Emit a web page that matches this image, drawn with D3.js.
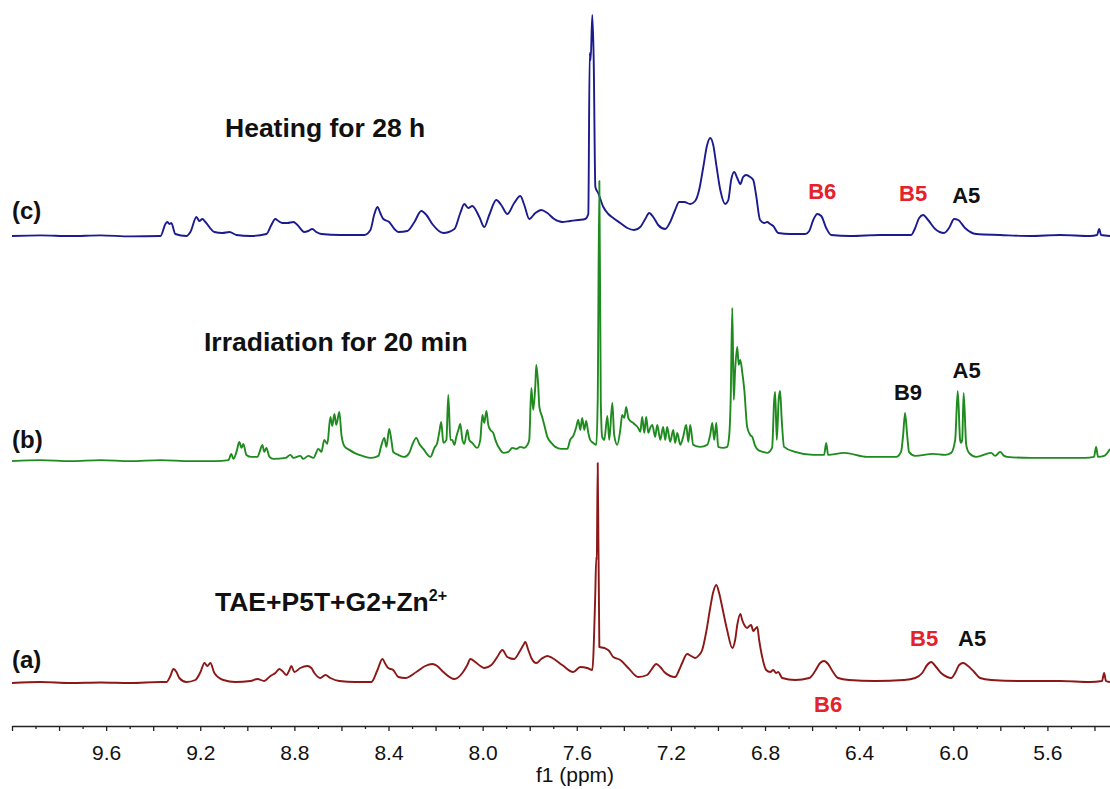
<!DOCTYPE html>
<html>
<head>
<meta charset="utf-8">
<script src="https://cdn.jsdelivr.net/npm/d3@7"></script>
<style>
  html, body { margin: 0; padding: 0; background: #ffffff; }
  svg { display: block; }
  text { font-family: "Liberation Sans", Arial, sans-serif; }
</style>
</head>
<body>
<svg id="chart" width="1110" height="789"></svg>
<script>
// 1H NMR spectra, aromatic region. Each series: [chemical shift (ppm), intensity (a.u.)].

// (c) after heating for 28 h
const spectrumC = [
  [10.00,0],[9.879,0.3],[9.752,0],[9.624,0.3],[9.497,-0.2],[9.369,0],
  [9.348,6],[9.340,7],[9.331,6],[9.323,6.5],[9.306,1],[9.259,0],
  [9.242,2],[9.216,9.5],[9.204,7.5],[9.191,8.5],[9.178,7],[9.140,2],[9.106,1.5],[9.076,2],[9.046,0.5],[8.987,0],[8.919,1],
  [8.898,5.5],[8.881,8.5],[8.868,7.5],[8.851,6.5],[8.830,6.5],[8.804,7],[8.787,5.5],[8.758,2],[8.741,2.5],[8.724,3.5],[8.707,2],[8.685,1],[8.605,0.5],[8.503,0.5],
  [8.477,3],[8.460,11],[8.447,14.5],[8.435,11.5],[8.422,8.5],[8.397,7],[8.375,3.5],[8.358,2],[8.320,2.5],
  [8.290,7],[8.261,12.5],[8.239,10.5],[8.214,6],[8.167,1.5],[8.120,3.5],
  [8.095,11.5],[8.078,16],[8.061,14],[8.044,15],[8.014,9.5],[7.993,4.5],[7.972,10.5],[7.942,18],[7.921,15.5],[7.895,11],
  [7.866,16.5],[7.840,20],[7.823,15.5],[7.802,8.5],[7.776,11.5],[7.751,13],[7.725,11.5],[7.696,8.5],[7.662,7],[7.628,7.5],
  [7.594,8],[7.564,8.5],[7.551,11],[7.545,91.5],[7.541,88],[7.534,110.5],[7.528,88],[7.521,24.5],[7.509,21.5],[7.487,14.5],
  [7.466,11],[7.445,9],[7.415,6.5],[7.385,4],[7.356,3],[7.330,4.5],[7.309,8.5],[7.292,11.5],[7.275,9.5],[7.254,5.5],[7.224,3.5],
  [7.203,7],[7.182,13],[7.165,17],[7.143,17],[7.118,16],[7.097,17.5],[7.080,23],[7.063,34],[7.046,45.5],[7.033,49],[7.020,45.5],
  [7.007,35.5],[6.990,23],[6.969,16],[6.956,18],[6.944,28],[6.931,32],[6.918,29],[6.905,26],[6.893,29.5],[6.880,30.5],[6.863,29.5],
  [6.850,28],[6.838,20.5],[6.821,8],[6.803,6.5],[6.791,7],[6.778,6],[6.765,5],[6.744,1.5],[6.693,1],[6.629,1],
  [6.612,2.5],[6.595,8],[6.578,11],[6.561,10],[6.540,4],[6.519,0.5],[6.438,0],[6.311,0.5],[6.179,0.5],
  [6.162,4],[6.145,9],[6.128,10.5],[6.107,8],[6.077,3.5],[6.039,1.5],[6.018,4],[5.996,8.5],[5.979,8],[5.950,4],[5.903,1],
  [5.801,0.5],[5.673,0],[5.546,0.5],[5.419,0],[5.389,0.5],[5.380,3.5],[5.372,0.5],[5.334,0]
];

// (b) after irradiation for 20 min
const spectrumB = [
  [10.00,-0.8],[9.879,-0.3],[9.752,-0.8],[9.624,-0.3],[9.497,-0.8],[9.369,-0.3],[9.242,-0.8],[9.136,-0.8],[9.080,-0.3],
  [9.068,2.8],[9.059,0.3],[9.046,3.8],[9.034,8.8],[9.025,5.8],[9.017,7.8],[9.004,2.3],[8.983,1.3],[8.957,1.3],[8.945,4.8],
  [8.936,7.3],[8.928,3.8],[8.919,5.8],[8.906,1.3],[8.889,0.3],[8.838,0.8],[8.817,2.3],[8.804,0.8],[8.775,1.8],[8.762,0.3],
  [8.741,1.8],[8.719,0.8],[8.698,5.3],[8.685,3.8],[8.673,9.8],[8.660,7.8],[8.647,21.3],[8.639,16.8],[8.630,22.8],[8.622,17.3],
  [8.609,23.8],[8.600,12.3],[8.588,6.8],[8.566,4.8],[8.545,3.3],[8.511,1.8],[8.473,0.8],[8.443,1.8],[8.431,6.8],[8.418,10.8],
  [8.409,6.3],[8.397,15.3],[8.388,9.8],[8.380,3.8],[8.358,2.3],[8.333,1.3],[8.312,3.3],[8.299,7.3],[8.282,10.8],[8.269,7.8],
  [8.252,5.3],[8.222,1.3],[8.205,5.8],[8.193,8.3],[8.184,13.8],[8.176,18.8],[8.167,8.3],[8.154,9.8],[8.146,32.3],[8.137,9.8],
  [8.129,9.8],[8.120,7.3],[8.112,11.3],[8.103,14.8],[8.095,17.8],[8.086,9.8],[8.078,7.8],[8.065,14.8],[8.057,9.8],[8.044,8.3],
  [8.023,5.8],[8.010,9.8],[8.001,22.3],[7.993,18.3],[7.984,24.3],[7.976,17.3],[7.967,14.8],[7.955,13.3],[7.946,9.8],[7.925,4.8],
  [7.912,3.3],[7.891,3.8],[7.874,5.8],[7.857,5.3],[7.840,6.3],[7.823,5.8],[7.810,7.3],[7.802,9.8],[7.793,35.8],[7.785,24.8],
  [7.776,37.3],[7.772,47.3],[7.764,37.3],[7.759,26.3],[7.747,21.3],[7.738,17.3],[7.725,11.3],[7.708,8.3],[7.691,6.3],[7.666,5.3],
  [7.640,5.3],[7.628,9.8],[7.615,11.8],[7.602,16.3],[7.594,19.8],[7.585,14.8],[7.577,20.8],[7.568,14.8],[7.560,19.3],[7.551,13.3],
  [7.543,9.8],[7.530,8.3],[7.517,7.3],[7.511,29.8],[7.504,139.3],[7.498,29.8],[7.492,11.3],[7.483,9.8],[7.470,21.8],[7.462,9.8],
  [7.449,28.3],[7.441,12.3],[7.428,7.3],[7.415,14.8],[7.407,22.3],[7.398,20.8],[7.390,26.3],[7.381,20.8],[7.373,19.3],[7.360,18.3],
  [7.351,17.3],[7.339,15.8],[7.330,13.8],[7.322,21.3],[7.313,13.3],[7.305,21.3],[7.296,13.3],[7.288,15.8],[7.279,17.3],[7.267,11.3],
  [7.258,17.3],[7.245,9.8],[7.233,16.3],[7.224,9.8],[7.216,16.3],[7.203,8.8],[7.190,14.8],[7.182,8.3],[7.173,13.3],[7.160,7.3],
  [7.148,11.3],[7.135,17.3],[7.126,8.8],[7.118,17.3],[7.105,7.3],[7.075,6.3],[7.046,7.3],[7.033,12.3],[7.024,18.3],[7.016,9.8],
  [7.007,18.3],[6.999,6.3],[6.978,5.8],[6.961,6.3],[6.952,12.3],[6.946,29.8],[6.939,75.8],[6.933,29.8],[6.927,44.8],[6.918,56.3],
  [6.912,47.3],[6.905,49.8],[6.897,43.8],[6.888,34.8],[6.876,16.3],[6.863,12.3],[6.854,11.3],[6.842,6.8],[6.829,4.8],[6.808,3.8],
  [6.791,3.3],[6.770,5.8],[6.761,29.8],[6.757,33.8],[6.750,9.8],[6.742,29.8],[6.736,34.3],[6.729,19.8],[6.719,6.3],[6.672,3.8],
  [6.595,2.3],[6.549,2.3],[6.540,8.3],[6.532,2.3],[6.464,3.3],[6.366,1.3],[6.243,1.3],[6.222,3.8],[6.213,12.3],[6.205,23.3],
  [6.196,12.3],[6.188,3.8],[6.162,1.8],[6.086,2.8],[6.035,2.3],[6.009,3.3],[5.992,9.8],[5.981,34.3],[5.971,9.8],[5.967,8.3],
  [5.962,9.8],[5.956,33.3],[5.945,7.3],[5.933,3.3],[5.903,1.3],[5.839,3.3],[5.822,1.8],[5.801,3.8],[5.784,1.8],[5.771,1.3],
  [5.669,0.8],[5.546,0.8],[5.440,0.8],[5.402,1.3],[5.393,6.3],[5.385,1.3],[5.359,1.8],[5.334,5.3]
];

// (a) TAE+P5T+G2+Zn2+
const spectrumA = [
  [10.00,0],[9.879,0.5],[9.752,0],[9.624,0.25],[9.497,0],[9.369,0.5],[9.344,0.5],[9.327,3.5],[9.314,7],[9.301,5.5],[9.289,2.5],
  [9.259,0.5],[9.221,1.5],[9.199,5.5],[9.182,10],[9.170,8.5],[9.157,10],[9.140,5],[9.102,1.5],[9.051,0.5],[8.987,1],[8.957,2],
  [8.928,1],[8.902,3.5],[8.881,5],[8.864,7],[8.851,6],[8.834,4],[8.821,6.5],[8.813,8.5],[8.800,5.5],[8.775,7.5],[8.745,8.5],
  [8.728,7.5],[8.715,5],[8.690,2.5],[8.668,4],[8.647,2.5],[8.609,1],[8.541,0.5],[8.473,0.5],[8.447,6.5],[8.426,12],[8.413,9.5],
  [8.401,7.5],[8.380,6.5],[8.358,3],[8.329,2.5],[8.282,5.5],[8.244,8.5],[8.214,9.5],[8.193,8.5],[8.167,5.5],[8.120,2],[8.086,5],
  [8.065,9],[8.052,12],[8.031,10.5],[8.010,8.5],[7.993,7.5],[7.963,9],[7.938,13],[7.916,16.5],[7.895,13],[7.866,12],[7.844,15.5],
  [7.827,19],[7.819,20.5],[7.806,16.5],[7.793,12.5],[7.772,10],[7.751,12],[7.725,13.5],[7.704,12.5],[7.662,9],[7.615,5.5],
  [7.585,8],[7.556,7.5],[7.534,6.5],[7.522,41.5],[7.517,63],[7.515,61.5],[7.511,110],[7.504,18],[7.483,17.5],[7.462,16],
  [7.445,13],[7.415,11.5],[7.381,7.5],[7.339,3],[7.301,4],[7.284,6.5],[7.262,9.5],[7.245,8],[7.228,5.5],[7.203,3.5],[7.182,3],
  [7.165,6.5],[7.152,10],[7.131,14.5],[7.114,13.5],[7.097,12.5],[7.080,14],[7.067,16.5],[7.050,25.5],[7.033,37.5],[7.020,45.5],
  [7.007,49],[6.995,45],[6.982,38],[6.961,26.5],[6.939,17.5],[6.927,21.5],[6.918,29],[6.905,34.5],[6.897,31.5],[6.888,29],
  [6.876,27.5],[6.867,28.5],[6.859,29],[6.850,26],[6.842,27],[6.833,28],[6.825,21.5],[6.812,13],[6.795,6.5],[6.778,5.5],
  [6.765,6.5],[6.753,5],[6.744,5.5],[6.727,2.5],[6.672,1.5],[6.612,2.5],[6.587,6],[6.566,10],[6.549,11],[6.532,9.5],[6.511,5.5],
  [6.489,2.5],[6.443,1.5],[6.332,1],[6.209,1.5],[6.162,2.5],[6.132,5],[6.111,9],[6.094,10.5],[6.073,8],[6.052,5],[6.026,3],
  [6.009,2.5],[5.992,5],[5.975,9],[5.958,10],[5.937,8.5],[5.911,5.5],[5.886,2.5],[5.839,1.5],[5.716,1],[5.546,1],[5.419,0.5],
  [5.368,1],[5.359,5],[5.351,1],[5.334,0.5]
];

const rowKeys = ["c", "b", "a"];
const rowTags = ["(c)", "(b)", "(a)"];
const conditionTitles = ["Heating for 28 h", "Irradiation for 20 min", "TAE+P5T+G2+Zn"];
const seriesColors = ["#1b1b8e", "#1f8b1f", "#8b1717"];

// Assigned peaks: which spectrum, label, and shift of the labelled signal
const peakRows   = ["c", "c", "c", "b", "b", "a", "a", "a"];
const peakNames  = ["B6", "B5", "A5", "B9", "A5", "B5", "A5", "B6"];
const peakShifts = [6.578, 6.128, 5.996, 6.205, 5.969, 6.094, 5.958, 6.549];

const tickLabels = ["9.6", "9.2", "8.8", "8.4", "8.0", "7.6", "7.2", "6.8", "6.4", "6.0", "5.6"];
const axisTitle = "f1 (ppm)";

// ---------------------------------------------------------------------------
const svg = d3.select("#chart");

const x = d3.scaleLinear().domain([10.0, 5.334]).range([12, 1110]);
const rowY = d3.scalePoint().domain(rowKeys).range([236, 683]);
const h = d3.scaleLinear().domain([0, 110]).range([0, 220]);

const series = rowKeys.map((k, i) => ({
  key: k,
  data: [spectrumC, spectrumB, spectrumA][i],
  color: seriesColors[i]
}));

// spectra, drawn top to bottom so lower traces sit over the upper ones
series.forEach(s => {
  const base = rowY(s.key);
  const line = d3.line()
    .x(d => x(d[0]))
    .y(d => base - h(d[1]))
    .curve(d3.curveMonotoneX);
  svg.append("path")
    .datum(s.data)
    .attr("fill", "none")
    .attr("stroke", s.color)
    .attr("stroke-width", 1.9)
    .attr("stroke-linejoin", "round")
    .attr("d", line);
});

// row tags (a)/(b)/(c)
const tagOffset = { c: -17, b: -11.5, a: -15 };
rowKeys.forEach((k, i) => {
  svg.append("text")
    .attr("x", 12)
    .attr("y", rowY(k) + tagOffset[k])
    .attr("font-size", 24)
    .attr("font-weight", "bold")
    .attr("fill", "#111")
    .text(rowTags[i]);
});

// condition titles
const titlePos = { c: [225, -99], b: [204, -108.5], a: [215, -72] };
rowKeys.forEach((k, i) => {
  const t = svg.append("text")
    .attr("x", titlePos[k][0])
    .attr("y", rowY(k) + titlePos[k][1])
    .attr("font-size", 26.5)
    .attr("font-weight", "bold")
    .attr("fill", "#111")
    .text(conditionTitles[i]);
  if (k === "a") {
    t.append("tspan")
      .attr("font-size", 16)
      .attr("dy", -10)
      .text("2+");
  }
});

// peak assignments
const labelLayout = {
  "c-B6": { dx: 5,  dy: -37, fill: "#e3222b" },
  "c-B5": { dx: -10, dy: -35, fill: "#e3222b" },
  "c-A5": { dx: 12, dy: -33, fill: "#111" },
  "b-B9": { dx: 3,  dy: -59.5, fill: "#111" },
  "b-A5": { dx: 6,  dy: -81.5, fill: "#111" },
  "a-B5": { dx: -7, dy: -37, fill: "#e3222b" },
  "a-A5": { dx: 9,  dy: -37, fill: "#111" },
  "a-B6": { dx: 4,  dy: 29, fill: "#e3222b" }
};
peakNames.forEach((name, i) => {
  const row = peakRows[i];
  const lay = labelLayout[row + "-" + name];
  svg.append("text")
    .attr("x", x(peakShifts[i]) + lay.dx)
    .attr("y", rowY(row) + lay.dy)
    .attr("text-anchor", "middle")
    .attr("font-size", 22)
    .attr("font-weight", "bold")
    .attr("fill", lay.fill)
    .text(name);
});

// ppm axis: major ticks every 0.2, minor every 0.1, labels every 0.4
const axisY = 726;
const majors = d3.range(0, 24).map(i => +(10.0 - i * 0.2).toFixed(1));
const minors = d3.range(0, 23).map(i => +(9.9 - i * 0.2).toFixed(1));
const labelSet = new Set(tickLabels);

const minorAxis = d3.axisBottom(x).tickValues(minors).tickSize(3).tickSizeOuter(0).tickFormat("");
const majorAxis = d3.axisBottom(x).tickValues(majors).tickSize(5).tickSizeOuter(0).tickPadding(14)
  .tickFormat(v => labelSet.has(v.toFixed(1)) ? v.toFixed(1) : "");

const gMinor = svg.append("g").attr("transform", `translate(0,${axisY})`).call(minorAxis);
const gMajor = svg.append("g").attr("transform", `translate(0,${axisY})`).call(majorAxis);

[gMinor, gMajor].forEach(g => {
  g.select(".domain").attr("stroke", "#222").attr("stroke-width", 1.6);
  g.selectAll(".tick line").attr("stroke", "#222").attr("stroke-width", 1.3);
});
gMinor.select(".domain").remove();
gMajor.selectAll(".tick text")
  .attr("font-family", "'Liberation Sans', Arial, sans-serif")
  .attr("font-size", 21)
  .attr("fill", "#111");

svg.append("text")
  .attr("x", 575)
  .attr("y", 782)
  .attr("text-anchor", "middle")
  .attr("font-size", 21)
  .attr("fill", "#111")
  .text(axisTitle);
</script>
</body>
</html>
